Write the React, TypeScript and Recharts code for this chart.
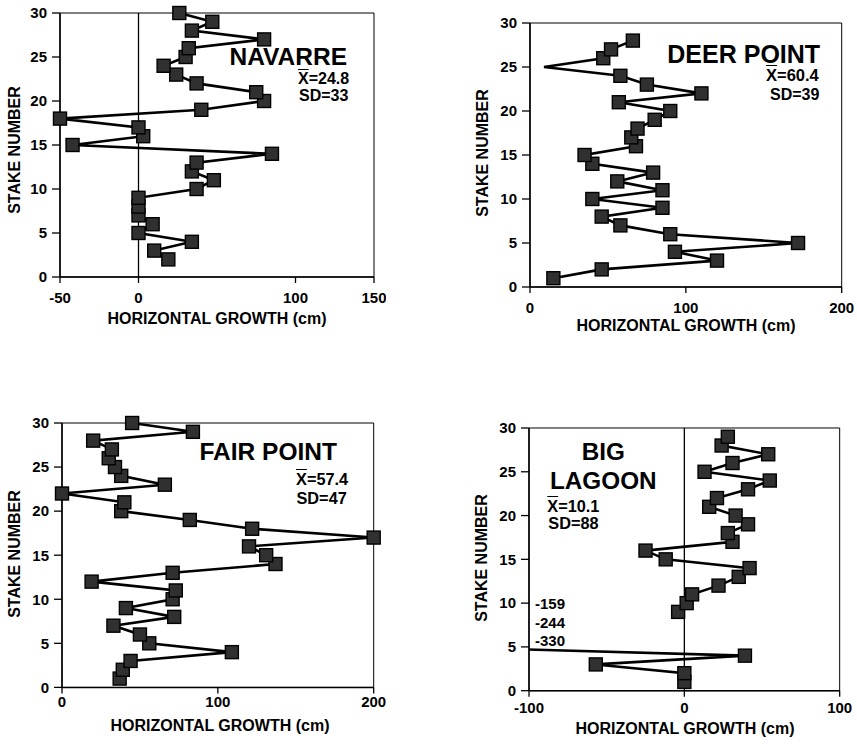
import React from 'react';
import { ScatterChart, Scatter, XAxis, YAxis, ReferenceLine, ReferenceArea } from 'recharts';

// ---------- data ----------
const stakeTicks = [0, 5, 10, 15, 20, 25, 30];

const navarreStakes = [2, 3, 4, 5, 6, 7, 8, 9, 10, 11, 12, 13, 14, 15, 16, 17, 18, 19, 20, 21, 22, 23, 24, 25, 26, 27, 28, 29, 30];
const navarreGrowth = [19, 10, 34, 0, 9, 0, 0, 0, 37, 48, 34, 37, 85, -42, 3, 0, -50, 40, 80, 75, 37, 24, 16, 30, 32, 80, 34, 47, 26];
const navarreTicks = [-50, 0, 100, 150];

const deerStakes = [1, 2, 3, 4, 5, 6, 7, 8, 9, 10, 11, 12, 13, 14, 15, 16, 17, 18, 19, 20, 21, 22, 23, 24, 25, 26, 27, 28];
const deerGrowth = [15, 46, 120, 93, 172, 90, 58, 46, 85, 40, 85, 56, 79, 40, 35, 68, 65, 69, 80, 90, 57, 110, 75, 58, 9, 47, 52, 66];
const deerNoMarker = [25];
const deerTicks = [0, 100, 200];

const fairStakes = [1, 2, 3, 4, 5, 6, 7, 8, 9, 10, 11, 12, 13, 14, 15, 16, 17, 18, 19, 20, 21, 22, 23, 24, 25, 26, 27, 28, 29, 30];
const fairGrowth = [37, 39, 44, 109, 56, 50, 33, 72, 41, 71, 73, 19, 71, 137, 131, 120, 200, 122, 82, 38, 40, 0, 66, 38, 34, 30, 32, 20, 84, 45];
const fairTicks = [0, 100, 200];

const lagoonStakes = [1, 2, 3, 4, 5, 6, 7, 8, 9, 10, 11, 12, 13, 14, 15, 16, 17, 18, 19, 20, 21, 22, 23, 24, 25, 26, 27, 28, 29];
const lagoonGrowth: (number | null)[] = [0, 0, -57, 39, -159, -244, -330, null, -4, 1.5, 5, 22, 35, 42, -12, -25, 31, 28, 41, 33, 16, 21, 41, 55, 13, 31, 54, 24, 28];
const lagoonTicks = [-100, 0, 100];
const lagoonOffScale = ['-159', '-244', '-330'];

type Pt = { x: number; y: number; noMarker?: boolean };

function segmentsOf(stakes: number[], growth: (number | null)[], noMarker: number[] = []): Pt[][] {
  const segs: Pt[][] = [];
  let cur: Pt[] = [];
  stakes.forEach((s, i) => {
    const g = growth[i];
    if (g === null || g === undefined) {
      if (cur.length) segs.push(cur);
      cur = [];
    } else {
      cur.push({ x: g, y: s, noMarker: noMarker.includes(s) });
    }
  });
  if (cur.length) segs.push(cur);
  return segs;
}

// ---------- styles ----------
const FONT = "'Liberation Sans', Arial, Helvetica, sans-serif";
const tickStyle = { fill: '#000', fontSize: 15, fontWeight: 700, fontFamily: FONT };

const Square = (props: any) => {
  const { cx, cy, payload } = props;
  if (cx == null || cy == null || isNaN(cx) || isNaN(cy)) return <g />;
  if (payload && payload.noMarker) return <g />;
  return (
    <rect x={cx - 6.5} y={cy - 6.5} width={13} height={13} fill="#303030" stroke="#000" strokeWidth={1.4} />
  );
};

type PanelProps = {
  L: number; R: number; T: number; B: number;
  domain: [number, number];
  xTicks: number[];
  segments: Pt[][];
  zeroLine?: boolean;
  overflow?: boolean;
  xTickMargin: number;
};

function Panel({ L, R, T, B, domain, xTicks, segments, zeroLine, overflow, xTickMargin }: PanelProps) {
  const yw = 60, mt = 12, mr = 12, xh = 40;
  const width = (R - L) + yw + mr;
  const height = (B - T) + mt + xh;
  return (
    <div style={{ position: 'absolute', left: L - yw, top: T - mt }}>
      <ScatterChart width={width} height={height} margin={{ top: mt, right: mr, bottom: 0, left: 0 }}>
        <XAxis
          type="number"
          dataKey="x"
          domain={domain}
          ticks={xTicks}
          interval={0}
          allowDataOverflow={!!overflow}
          height={xh}
          tickSize={6}
          tickMargin={xTickMargin}
          axisLine={{ stroke: '#000', strokeWidth: 1.5 }}
          tickLine={{ stroke: '#000', strokeWidth: 1.3 }}
          tick={tickStyle}
        />
        <YAxis
          type="number"
          dataKey="y"
          domain={[0, 30]}
          ticks={stakeTicks}
          interval={0}
          width={yw}
          tickSize={8}
          tickMargin={5}
          axisLine={{ stroke: '#000', strokeWidth: 1.5 }}
          tickLine={{ stroke: '#000', strokeWidth: 1.3 }}
          tick={tickStyle}
        />
        <ReferenceArea x1={domain[0]} x2={domain[1]} y1={0} y2={30} fill="none" fillOpacity={0} stroke="#000" strokeWidth={1} ifOverflow="visible" />
        {zeroLine && <ReferenceLine x={0} stroke="#000" strokeWidth={1.3} ifOverflow="visible" />}
        {segments.map((seg, i) => (
          <Scatter
            key={i}
            data={seg}
            line={{ stroke: '#000', strokeWidth: 2.6 }}
            lineType="joint"
            shape={Square}
            isAnimationActive={false}
          />
        ))}
      </ScatterChart>
    </div>
  );
}

const txt = (left: number, top: number, size: number, content: React.ReactNode, extra: React.CSSProperties = {}) => (
  <div
    style={{
      position: 'absolute', left, top, fontSize: size, lineHeight: 1, fontFamily: FONT,
      fontWeight: 700, color: '#000', whiteSpace: 'nowrap', ...extra,
    }}
  >
    {content}
  </div>
);

const xTitle = (cx: number, top: number) =>
  txt(cx - 150, top, 16, 'HORIZONTAL GROWTH (cm)', { width: 300, textAlign: 'center' });

const yTitle = (cx: number, cy: number) =>
  txt(cx - 100, cy - 8, 16, 'STAKE NUMBER', { width: 200, height: 16, textAlign: 'center', transform: 'rotate(-90deg)', transformOrigin: '50% 50%' });

const Xbar = ({ v }: { v: string }) => (
  <span>
    <span style={{ textDecoration: 'overline' }}>X</span>={v}
  </span>
);

export default function App() {
  return (
    <div style={{ position: 'absolute', left: 0, top: 0, width: 857, height: 746, background: '#fff', overflow: 'hidden' }}>
      {/* NAVARRE */}
      <Panel L={60} R={374} T={12.7} B={276.7} domain={[-50, 150]} xTicks={navarreTicks}
        segments={segmentsOf(navarreStakes, navarreGrowth)} zeroLine xTickMargin={9} />
      {txt(229.5, 45.2, 24.5, 'NAVARRE', { height: 24 })}
      {txt(298, 70.6, 16, <Xbar v="24.8" />)}
      {txt(299, 87.5, 16, 'SD=33')}
      {xTitle(217, 311)}
      {yTitle(14.5, 150.3)}

      {/* DEER POINT */}
      <Panel L={530} R={841.7} T={22.7} B={286.7} domain={[0, 200]} xTicks={deerTicks}
        segments={segmentsOf(deerStakes, deerGrowth, deerNoMarker)} xTickMargin={9} />
      {txt(667.3, 41.5, 25, 'DEER POINT', { height: 24 })}
      {txt(766, 67, 16.5, <Xbar v="60.4" />)}
      {txt(770, 86.5, 16, 'SD=39')}
      {xTitle(686, 318)}
      {yTitle(483.3, 153.3)}

      {/* FAIR POINT */}
      <Panel L={62.3} R={374} T={423.3} B={687.7} domain={[0, 200]} xTicks={fairTicks}
        segments={segmentsOf(fairStakes, fairGrowth)} xTickMargin={3} />
      {txt(199.5, 440.1, 24.5, 'FAIR POINT', { height: 24 })}
      {txt(296, 471.2, 16.3, <Xbar v="57.4" />)}
      {txt(296.5, 490, 16.3, 'SD=47')}
      {xTitle(220, 718)}
      {yTitle(15, 554.2)}

      {/* BIG LAGOON */}
      <Panel L={529.3} R={840} T={428.3} B={691} domain={[-100, 100]} xTicks={lagoonTicks}
        segments={segmentsOf(lagoonStakes, lagoonGrowth)} zeroLine overflow xTickMargin={6} />
      {txt(543.3, 440.2, 24.3, 'BIG', { width: 120, textAlign: 'center', height: 24 })}
      {txt(543.3, 468.6, 24.3, 'LAGOON', { width: 120, textAlign: 'center', height: 24 })}
      {txt(547.3, 497.9, 16.3, <Xbar v="10.1" />)}
      {txt(548.3, 515, 16.3, 'SD=88')}
      {lagoonOffScale.map((v, i) => (
        <React.Fragment key={v}>{txt(535, 596.3 + i * 18.4, 15, v)}</React.Fragment>
      ))}
      {xTitle(685, 721)}
      {yTitle(481.7, 558.3)}
    </div>
  );
}
